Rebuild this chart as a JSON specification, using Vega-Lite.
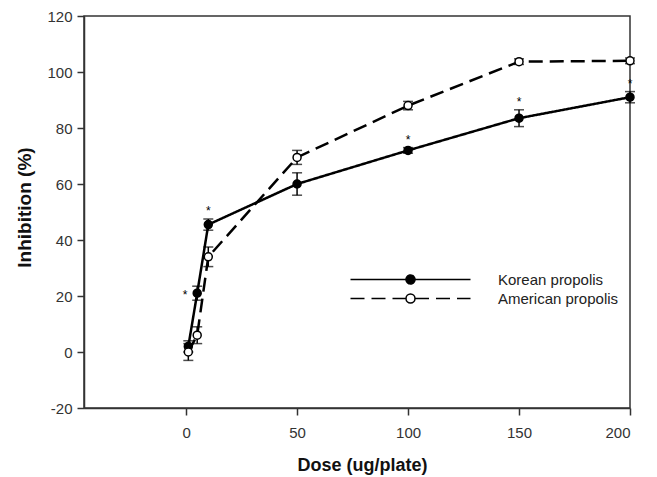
{
  "$schema": "https://vega.github.io/schema/vega-lite/v6.json",
  "autosize": "none",
  "padding": {"left": 84, "top": 16, "right": 27, "bottom": 69},
  "width": 546,
  "height": 392,
  "background": "white",
  "config": {
    "font": "Liberation Sans",
    "view": {"stroke": "#333333", "strokeWidth": 1.5},
    "axis": {
      "domainColor": "#333333", "domainWidth": 1.5, "tickColor": "#333333", "tickWidth": 1.5, "tickSize": 7,
      "labelFont": "Liberation Sans", "labelFontSize": 15, "labelColor": "#333333",
      "titleFont": "Liberation Sans", "titleFontSize": 18, "titleFontWeight": "bold", "titleColor": "#111111",
      "grid": false
    },
    "legend": {
      "orient": "none", "legendX": 265, "legendY": 256, "title": null, "padding": 0, "rowPadding": 3,
      "symbolType": "M-12,0H-0.9M0.9,0H12M-0.9,0A0.9,0.9,0,0,1,0.9,0M0.9,0A0.9,0.9,0,0,1,-0.9,0",
      "symbolSize": 100, "symbolOffset": 54, "labelOffset": 80, "labelLimit": 300,
      "labelFont": "Liberation Sans", "labelFontSize": 15, "labelColor": "#222222"
    }
  },
  "data": {
    "values": [
      {"dose": 1, "series": "Korean propolis", "mean": 2, "lo": 0, "hi": 4, "star": ""},
      {"dose": 5, "series": "Korean propolis", "mean": 21, "lo": 18.5, "hi": 23.5, "star": "*"},
      {"dose": 10, "series": "Korean propolis", "mean": 45.5, "lo": 43.5, "hi": 47.5, "star": "*"},
      {"dose": 50, "series": "Korean propolis", "mean": 60, "lo": 56, "hi": 64, "star": ""},
      {"dose": 100, "series": "Korean propolis", "mean": 72, "lo": 71, "hi": 73, "star": "*"},
      {"dose": 150, "series": "Korean propolis", "mean": 83.5, "lo": 80.5, "hi": 86.5, "star": "*"},
      {"dose": 200, "series": "Korean propolis", "mean": 91, "lo": 89, "hi": 93, "star": "*"},
      {"dose": 1, "series": "American propolis", "mean": 0, "lo": -3, "hi": 3, "star": ""},
      {"dose": 5, "series": "American propolis", "mean": 6, "lo": 3, "hi": 9, "star": ""},
      {"dose": 10, "series": "American propolis", "mean": 34, "lo": 30.5, "hi": 37.5, "star": ""},
      {"dose": 50, "series": "American propolis", "mean": 69.5, "lo": 67, "hi": 72, "star": ""},
      {"dose": 100, "series": "American propolis", "mean": 88, "lo": 86.5, "hi": 89.5, "star": ""},
      {"dose": 150, "series": "American propolis", "mean": 103.7, "lo": 102.7, "hi": 104.7, "star": ""},
      {"dose": 200, "series": "American propolis", "mean": 104, "lo": 103, "hi": 105, "star": ""}
    ]
  },
  "encoding": {
    "x": {"field": "dose", "type": "quantitative", "scale": {"domain": [-46, 200], "nice": false, "zero": false},
      "axis": {"values": [0, 50, 100, 150, 200], "title": "Dose (ug/plate)", "labelPadding": 10, "titlePadding": 16, "titleX": 278}},
    "y": {"type": "quantitative", "scale": {"domain": [-20, 120], "nice": false, "zero": false},
      "axis": {"values": [-20, 0, 20, 40, 60, 80, 100, 120], "title": "Inhibition (%)", "labelPadding": 5, "titlePadding": 12,
        "titleFontSize": 19, "titleY": 191,
        "labelExpr": "replace(datum.label, '−', '-')"}}
  },
  "layer": [
    {
      "mark": {"type": "line", "color": "black", "strokeWidth": 2.5},
      "encoding": {
        "y": {"field": "mean", "type": "quantitative"},
        "detail": {"field": "series"},
        "strokeDash": {"field": "series", "type": "nominal",
          "scale": {"domain": ["Korean propolis", "American propolis"], "range": [[1, 0], [14, 7]]}}
      }
    },
    {
      "mark": {"type": "errorbar", "color": "black", "thickness": 1.5, "ticks": {"size": 10, "thickness": 1.5, "color": "black"}},
      "encoding": {
        "y": {"field": "lo", "type": "quantitative", "title": "Inhibition (%)"},
        "y2": {"field": "hi"},
        "detail": {"field": "series"}
      }
    },
    {
      "mark": {"type": "point", "shape": "circle", "filled": true, "size": 64, "stroke": "black", "strokeWidth": 1.5, "opacity": 1},
      "encoding": {
        "y": {"field": "mean", "type": "quantitative"},
        "fill": {"field": "series", "type": "nominal",
          "scale": {"domain": ["Korean propolis", "American propolis"], "range": ["black", "white"]},
          "legend": {
            "encode": {"symbols": {"update": {"stroke": {"value": "black"}, "strokeWidth": {"value": 2.5}, "opacity": {"value": 1}}}}
          }}
      }
    },
    {
      "transform": [{"filter": "datum.star === '*' && datum.dose !== 5"}],
      "mark": {"type": "text", "fontSize": 12, "dy": -8, "baseline": "middle", "align": "center", "color": "black"},
      "encoding": {"y": {"field": "hi", "type": "quantitative"}, "text": {"field": "star"}}
    },
    {
      "transform": [{"filter": "datum.star === '*' && datum.dose === 5"}],
      "mark": {"type": "text", "fontSize": 12, "dx": -12, "dy": 2, "baseline": "middle", "align": "center", "color": "black"},
      "encoding": {"y": {"field": "mean", "type": "quantitative"}, "text": {"field": "star"}}
    }
  ]
}
